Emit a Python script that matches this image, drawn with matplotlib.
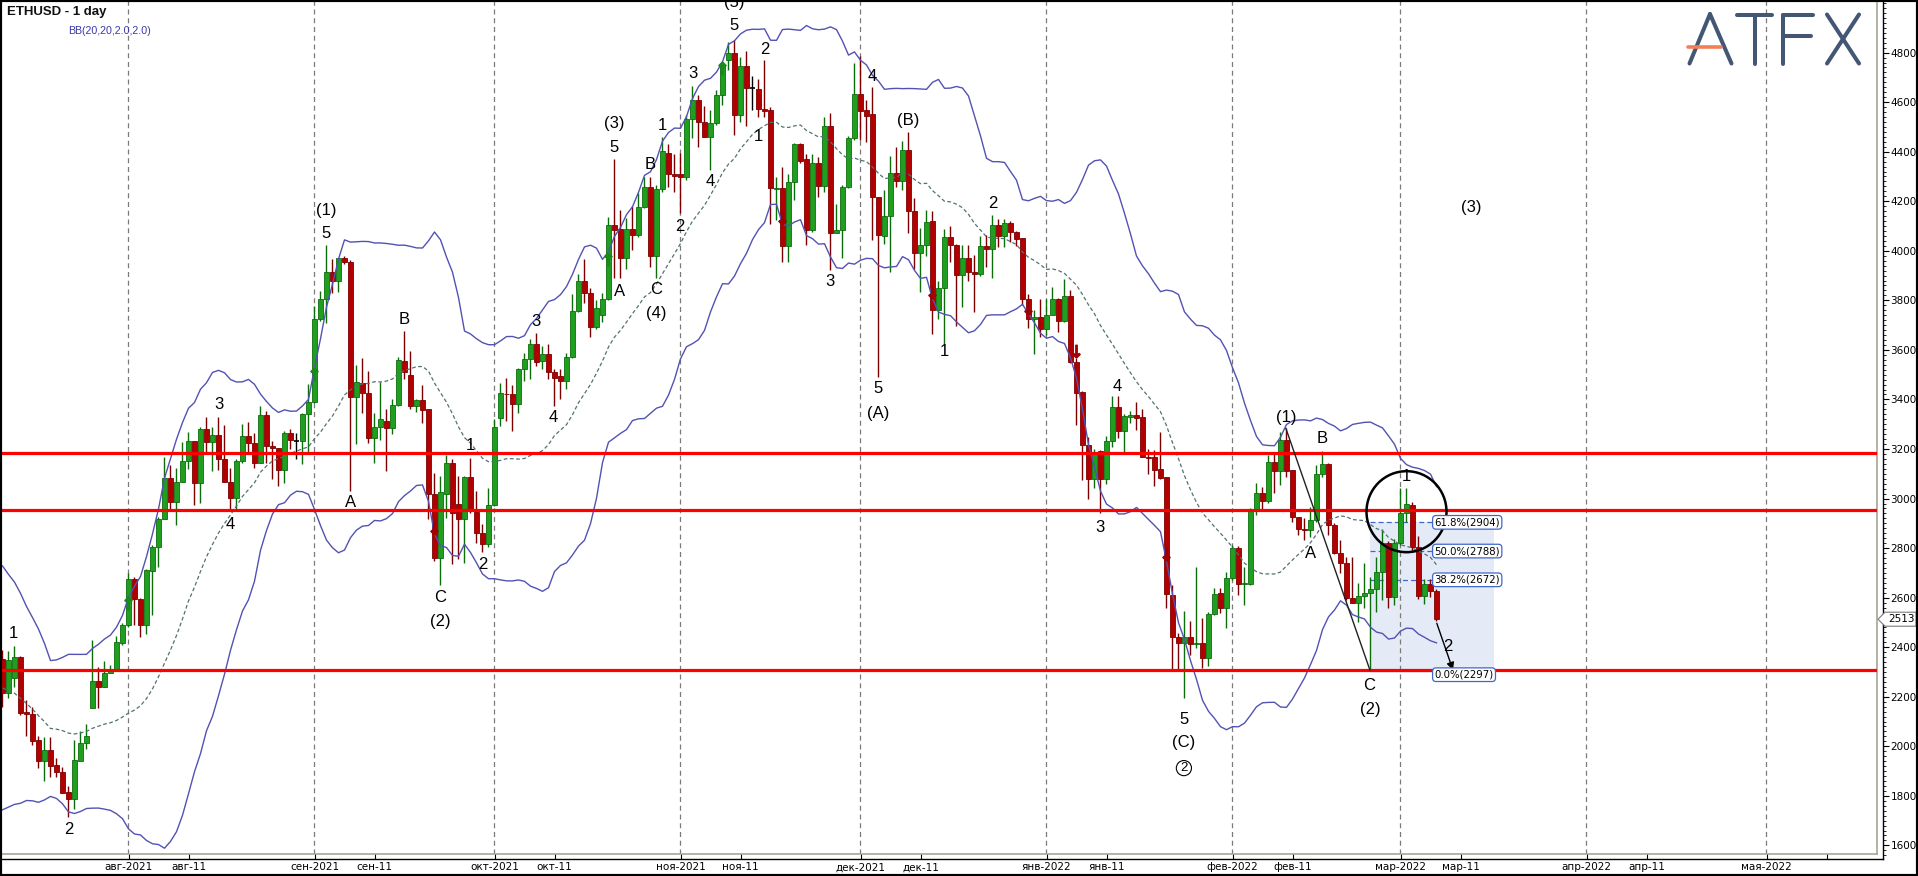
import numpy as np
import pandas as pd
import matplotlib
matplotlib.use("Agg")
import matplotlib.pyplot as plt
import matplotlib.dates as mdates
from matplotlib.patches import Rectangle, Ellipse, Polygon
from matplotlib.lines import Line2D
from matplotlib.ticker import MultipleLocator

# ---------------- data ----------------
start_date = "2021-07-11"

opens = [2351, 2214, 2274, 2359, 2137, 2129, 2025, 1942, 1985, 1924,
         1895, 1815, 1787, 1941, 2012, 2156, 2264, 2241, 2297, 2311,
         2418, 2488, 2674, 2596, 2488, 2707, 2804, 2917, 3083, 2987,
         3067, 3152, 3234, 3063, 3282, 3229, 3258, 3160, 3067, 3003,
         3152, 3253, 3225, 3144, 3339, 3214, 3204, 3117, 3263, 3234,
         3232, 3340, 3391, 3726, 3806, 3915, 3878, 3969, 3956, 3410,
         3468, 3427, 3246, 3290, 3315, 3286, 3376, 3555, 3497, 3373,
         3396, 3360, 3017, 2761, 3017, 3142, 2976, 2919, 3088, 2946,
         2862, 2818, 2972, 3326, 3424, 3424, 3380, 3524, 3562, 3622,
         3555, 3582, 3511, 3494, 3474, 3572, 3757, 3878, 3828, 3694,
         3740, 3805, 4104, 4087, 3972, 4087, 4064, 4175, 4259, 3980,
         4248, 4396, 4310, 4310, 4296, 4531, 4609, 4521, 4461, 4515,
         4629, 4770, 4800, 4548, 4746, 4656, 4652, 4571, 4568, 4248,
         4252, 4021, 4276, 4431, 4369, 4084, 4353, 4262, 4504, 4070,
         4084, 4256, 4454, 4632, 4568, 4552, 4219, 4058, 4142, 4315,
         4283, 4406, 4159, 3993, 4025, 4119, 3763, 3848, 4055, 4025,
         3901, 3971, 3913, 3906, 4019, 4007, 4106, 4061, 4112, 4077,
         4051, 3804, 3724, 3732, 3684, 3742, 3807, 3717, 3819, 3553,
         3430, 3217, 3079, 3191, 3079, 3231, 3369, 3272, 3330, 3336,
         3330, 3169, 3166, 3118, 3086, 2611, 2443, 2418, 2440, 2412,
         2416, 2355, 2534, 2617, 2557, 2678, 2799, 2655, 2655, 2956,
         3021, 2991, 3149, 3112, 3236, 3115, 2924, 2876, 2873, 2913,
         3099, 3138, 2893, 2782, 2738, 2597, 2580, 2607, 2617, 2633,
         2705, 2822, 2601, 2819, 2943, 2974, 2803, 2607, 2655, 2627]

highs = [2389, 2386, 2405, 2365, 2187, 2160, 2041, 2039, 2036, 1951,
         1918, 1840, 2025, 2063, 2090, 2429, 2321, 2344, 2328, 2445,
         2496, 2698, 2682, 2600, 2715, 2812, 2925, 3169, 3136, 3123,
         3230, 3269, 3234, 3290, 3328, 3290, 3331, 3295, 3123, 3161,
         3299, 3307, 3266, 3372, 3355, 3234, 3204, 3274, 3282, 3266,
         3346, 3461, 3777, 3837, 4022, 3968, 3972, 3979, 3963, 3541,
         3566, 3515, 3346, 3470, 3363, 3400, 3572, 3676, 3595, 3400,
         3457, 3360, 3104, 3093, 3174, 3161, 3091, 3093, 3165, 3030,
         2896, 3044, 3320, 3467, 3488, 3457, 3528, 3588, 3642, 3669,
         3615, 3622, 3521, 3521, 3588, 3824, 3905, 3965, 3850, 3800,
         3828, 4138, 4369, 4165, 4131, 4181, 4232, 4299, 4299, 4266,
         4461, 4431, 4391, 4393, 4548, 4665, 4629, 4584, 4568, 4649,
         4757, 4844, 4851, 4784, 4808, 4706, 4692, 4770, 4582, 4299,
         4340, 4312, 4434, 4434, 4391, 4391, 4380, 4541, 4558, 4189,
         4265, 4463, 4760, 4786, 4609, 4660, 4219, 4246, 4384, 4417,
         4442, 4481, 4214, 4094, 4166, 4159, 3877, 4090, 4101, 4029,
         4022, 4022, 3985, 4058, 4065, 4145, 4130, 4130, 4119, 4080,
         4051, 3826, 3761, 3804, 3804, 3852, 3811, 3887, 3843, 3568,
         3434, 3249, 3202, 3195, 3253, 3413, 3413, 3340, 3355, 3391,
         3362, 3202, 3195, 3268, 3086, 2651, 2456, 2547, 2507, 2725,
         2516, 2543, 2638, 2638, 2705, 2812, 2808, 2725, 2960, 3061,
         3048, 3176, 3182, 3270, 3283, 3115, 2927, 2920, 2967, 3135,
         3193, 3142, 2903, 2833, 2765, 2765, 2658, 2738, 2685, 2765,
         2876, 2830, 2835, 3041, 3041, 2987, 2849, 2674, 2674, 2634]

lows = [2157, 2194, 2238, 2126, 2041, 2005, 1914, 1861, 1877, 1877,
        1813, 1713, 1746, 1941, 1988, 2153, 2153, 2238, 2294, 2308,
        2409, 2480, 2488, 2442, 2455, 2528, 2723, 2917, 2958, 2893,
        3067, 3120, 2974, 2982, 3185, 3112, 3117, 3067, 2958, 2958,
        3144, 3185, 3123, 3144, 3144, 3080, 3052, 3063, 3198, 3158,
        3138, 3185, 3387, 3716, 3710, 3831, 3834, 3945, 3030, 3219,
        3346, 3225, 3145, 3236, 3111, 3259, 3373, 3481, 3360, 3349,
        3306, 2916, 2748, 2651, 2923, 2734, 2754, 2741, 2943, 2822,
        2784, 2806, 2970, 3293, 3313, 3272, 3344, 3474, 3481, 3535,
        3521, 3481, 3373, 3403, 3441, 3568, 3753, 3790, 3653, 3684,
        3714, 3801, 3889, 3889, 3925, 4003, 4057, 4171, 3936, 3889,
        4239, 4259, 4239, 4151, 4286, 4454, 4420, 4458, 4326, 4508,
        4588, 4730, 4467, 4521, 4504, 4568, 4541, 4541, 4108, 4124,
        3956, 3956, 4205, 4353, 4023, 4077, 4219, 4239, 3922, 4070,
        3970, 4252, 4447, 4447, 4440, 4044, 3492, 4029, 3915, 4258,
        4246, 4072, 3927, 3835, 3978, 3666, 3724, 3625, 3956, 3695,
        3775, 3879, 3753, 3899, 3935, 3892, 4014, 4014, 4036, 4019,
        3782, 3688, 3582, 3652, 3659, 3739, 3674, 3713, 3547, 3297,
        3075, 2999, 3043, 2941, 3057, 3210, 3246, 3188, 3304, 3275,
        3166, 3101, 3050, 3078, 2557, 2308, 2308, 2194, 2368, 2395,
        2315, 2324, 2530, 2537, 2476, 2671, 2611, 2570, 2651, 2934,
        2951, 2981, 3024, 3055, 3088, 2907, 2853, 2833, 2843, 2907,
        3085, 2853, 2776, 2698, 2590, 2577, 2503, 2557, 2308, 2543,
        2590, 2557, 2570, 2812, 2907, 2786, 2593, 2574, 2604, 2507]

closes = [2214, 2348, 2359, 2133, 2130, 2023, 1942, 1985, 1922, 1898,
          1813, 1787, 1943, 2012, 2042, 2264, 2241, 2297, 2312, 2420,
          2490, 2674, 2593, 2488, 2710, 2804, 2917, 3083, 2987, 3067,
          3152, 3234, 3063, 3279, 3229, 3258, 3160, 3067, 3003, 3152,
          3253, 3225, 3144, 3339, 3214, 3204, 3117, 3263, 3237, 3234,
          3340, 3391, 3726, 3806, 3915, 3878, 3969, 3954, 3410, 3472,
          3427, 3246, 3290, 3320, 3286, 3376, 3559, 3511, 3373, 3396,
          3357, 3017, 2761, 3028, 3142, 2943, 2919, 3088, 2956, 2862,
          2818, 2972, 3290, 3427, 3420, 3380, 3524, 3562, 3622, 3551,
          3582, 3511, 3488, 3474, 3572, 3757, 3878, 3828, 3694, 3768,
          3805, 4104, 4084, 3972, 4087, 4064, 4175, 4259, 3980, 4248,
          4403, 4310, 4302, 4296, 4531, 4609, 4521, 4461, 4515, 4629,
          4750, 4800, 4548, 4746, 4656, 4656, 4571, 4565, 4252, 4252,
          4021, 4276, 4431, 4364, 4084, 4353, 4262, 4504, 4070, 4084,
          4256, 4454, 4632, 4566, 4545, 4219, 4064, 4142, 4315, 4283,
          4406, 4159, 3993, 4025, 4116, 3763, 3848, 4055, 4022, 3901,
          3971, 3913, 3906, 4019, 4007, 4106, 4061, 4112, 4077, 4048,
          3804, 3724, 3732, 3684, 3742, 3807, 3717, 3819, 3550, 3427,
          3217, 3079, 3181, 3079, 3231, 3369, 3272, 3333, 3336, 3326,
          3166, 3162, 3115, 3082, 2615, 2443, 2418, 2440, 2412, 2418,
          2355, 2534, 2615, 2557, 2678, 2799, 2655, 2660, 2956, 3021,
          2991, 3149, 3112, 3236, 3112, 2924, 2876, 2873, 2913, 3099,
          3138, 2893, 2782, 2738, 2597, 2580, 2607, 2617, 2633, 2705,
          2822, 2601, 2819, 2943, 2978, 2803, 2607, 2655, 2628, 2513]

# estimated closes of the 19 days before the first candle (needed for the BB warm-up)
bb_warmup_closes = [2580, 2560, 2540, 2550, 2480, 2470, 2470, 2472, 1950, 1930,
                    1990, 2010, 1930, 1920, 2010, 2070, 2130, 2200, 2240]
bb_period = 20
bb_mult = 2.0

red_levels = [3185, 2953, 2306]

fib_pct = ["61.8%", "50.0%", "38.2%", "0.0%"]
fib_prices = [2904, 2788, 2672, 2297]

tick_dates = ["2021-08-01", "2021-08-11", "2021-09-01", "2021-09-11", "2021-10-01",
              "2021-10-11", "2021-11-01", "2021-11-11", "2021-12-01", "2021-12-11",
              "2022-01-01", "2022-01-11", "2022-02-01", "2022-02-11", "2022-03-01",
              "2022-03-11", "2022-04-01", "2022-04-11", "2022-05-01", "2022-05-11"]
tick_labels = ["авг-2021", "авг-11", "сен-2021", "сен-11", "окт-2021", "окт-11",
               "ноя-2021", "ноя-11", "дек-2021", "дек-11", "янв-2022", "янв-11",
               "фев-2022", "фев-11", "мар-2022", "мар-11", "апр-2022", "апр-11",
               "мая-2022", ""]
grid_dates = ["2021-08-01", "2021-09-01", "2021-10-01", "2021-11-01", "2021-12-01",
              "2022-01-01", "2022-02-01", "2022-03-01", "2022-04-01", "2022-05-01"]
price_ticks = list(range(1600, 4801, 200))

# Elliott-wave annotations: text, day offset from 2021-08-01, price
wave_texts = ["1", "2", "3", "4", "(1)", "5", "A", "B", "C", "(2)", "1", "2", "3", "4",
              "(3)", "5", "A", "B", "C", "(4)", "1", "2", "3", "4", "(5)", "5", "1", "2",
              "3", "4", "5", "(A)", "(B)", "1", "2", "3", "4", "5", "(C)",
              "(1)", "B", "A", "C", "(2)", "1", "2", "(3)"]
wave_days = [-19.2, -10.0, 15.0, 16.9, 32.9, 32.9, 37.0, 46.0, 51.9, 51.9, 56.9, 59.0, 67.9, 70.8,
             81.0, 81.0, 81.9, 86.9, 87.9, 87.9, 88.9, 91.9, 94.0, 96.9, 100.9, 100.9, 105.0, 106.0,
             116.9, 123.9, 124.9, 124.9, 130.0, 135.9, 144.0, 161.9, 164.8, 175.9, 175.9,
             192.9, 199.0, 197.0, 206.8, 207.0, 213.0, 219.9, 223.8]
wave_prices = [2457, 1665, 3380, 2896, 4164, 4069, 2986, 3723, 2600, 2502, 3215, 2734, 3716, 3326,
               4514, 4418, 3835, 4350, 3842, 3745, 4504, 4097, 4714, 4279, 5002, 4911, 4461, 4813,
               3875, 4703, 3443, 3343, 4525, 3594, 4191, 2883, 3452, 2109, 2015,
               3328, 3243, 2779, 2247, 2149, 3088, 2402, 4173]

signal_up_days = [0, 31, 80, 99]
signal_up_prices = [2577, 3501, 3966, 4736]
signal_dn_days = [51, 109, 134, 150, 158, 173]
signal_dn_prices = [2882, 4131, 3833, 3768, 3594, 2775]

# ---------------- geometry of the reference picture ----------------
W, H, DPI = 1918, 876, 100
X_AUG1, PX_PER_DAY = 128.5, 6.0
Y_4800, PX_PER_PRICE = 52.6, 0.24775

plt.rcParams['font.family'] = ['Liberation Sans', 'DejaVu Sans']

anchor = mdates.date2num(pd.Timestamp("2021-08-01"))


def px_to_x(px):
    return anchor + (px - X_AUG1) / PX_PER_DAY


def py_to_price(py):
    return 4800 - (py - Y_4800) / PX_PER_PRICE


def fig_pt(px, py):
    return (px / W, 1 - py / H)


o = np.array(opens, float)
h = np.array(highs, float)
l = np.array(lows, float)
c = np.array(closes, float)
dates = pd.date_range(start_date, periods=len(c), freq="D")
x = mdates.date2num(dates)

allc = pd.Series(list(bb_warmup_closes) + list(closes), dtype=float)
mid = allc.rolling(bb_period).mean().to_numpy()[len(bb_warmup_closes):]
sd = allc.rolling(bb_period).std(ddof=0).to_numpy()[len(bb_warmup_closes):]
upper = mid + bb_mult * sd
lower = mid - bb_mult * sd

fig = plt.figure(figsize=(W / DPI, H / DPI), dpi=DPI)
fig.patch.set_facecolor("white")

# ---- tick/frame axes (black axis lines, ticks and labels) ----
axT = fig.add_axes([2 / W, 1 - 859 / H, (1883 - 2) / W, (859 - 1) / H])
axT.set_xlim(px_to_x(2), px_to_x(1883))
axT.set_ylim(py_to_price(859), py_to_price(1))
axT.patch.set_visible(False)
for s in ["left", "top"]:
    axT.spines[s].set_visible(False)
for s in ["right", "bottom"]:
    axT.spines[s].set_color("black")
    axT.spines[s].set_linewidth(1.0)
axT.yaxis.tick_right()
axT.set_yticks(price_ticks)
axT.set_yticklabels([str(v) for v in price_ticks], family="DejaVu Sans")
axT.yaxis.set_minor_locator(MultipleLocator(20))
axT.tick_params(axis="y", which="major", direction="out", length=4, width=0.8,
                labelsize=7.5, pad=1.5)
axT.tick_params(axis="y", which="minor", direction="out", length=2, width=0.6)
tick_x = mdates.date2num(pd.to_datetime(tick_dates))
axT.set_xticks(tick_x)
axT.set_xticklabels(tick_labels, family="DejaVu Sans")
axT.tick_params(axis="x", which="major", direction="in", length=5, width=0.8,
                labelsize=7.5, pad=2.5)

# ---- main plotting axes ----
ax = fig.add_axes([2 / W, 1 - 854 / H, (1877 - 2) / W, (854 - 1) / H])
ax.set_xlim(px_to_x(2), px_to_x(1877))
ax.set_ylim(py_to_price(854), py_to_price(1))
ax.set_xticks([])
ax.set_yticks([])
ax.set_facecolor("white")
for s in ["left", "top"]:
    ax.spines[s].set_visible(False)
for s in ["right", "bottom"]:
    ax.spines[s].set_color("#a6a696")
    ax.spines[s].set_linewidth(1.2)

# month grid
for gd in pd.to_datetime(grid_dates):
    ax.axvline(mdates.date2num(gd), color="#7a7a7a", lw=0.9, ls=(0, (4, 3)), zorder=1)

# fibonacci box
fx0 = anchor + 206.85
fx1 = anchor + 227.6
fxl = anchor + 217.3
ax.add_patch(Rectangle((fx0, fib_prices[3]), fx1 - fx0, fib_prices[0] - fib_prices[3],
                       facecolor="#e5ebf6", edgecolor="none", zorder=0.5))
for lab, pv in zip(fib_pct, fib_prices):
    if lab != "0.0%":
        ax.plot([fx0, fxl], [pv, pv], color="#3f67cc", lw=0.9, ls=(0, (4, 2.5)), zorder=2)
    ax.text(fxl + 0.35, pv - (8 if lab == "0.0%" else 0), f"{lab}({pv})", fontsize=7.3,
            family="DejaVu Sans", ha="left", va="center", zorder=9,
            bbox=dict(boxstyle="round,pad=0.18,rounding_size=0.35", fc="white",
                      ec="#3f67cc", lw=0.9))

# candles
up = c > o
dn = c < o
fl = c == o
wick_col = np.where(up, "#0b6e0b", np.where(dn, "#7d0000", "#000000"))
ax.vlines(x, l, h, colors=list(wick_col), lw=1.0, zorder=3)
bw = 0.72
ax.bar(x[up], (c - o)[up], bottom=o[up], width=bw, color="#1f9e1f",
       edgecolor="#0b6e0b", linewidth=0.6, zorder=4)
ax.bar(x[dn], (o - c)[dn], bottom=c[dn], width=bw, color="#b20000",
       edgecolor="#7d0000", linewidth=0.6, zorder=4)
ax.hlines(c[fl], x[fl] - bw / 2, x[fl] + bw / 2, color="black", lw=1.2, zorder=4)

# Bollinger bands
ax.plot(x, upper, color="#5252b4", lw=1.0, zorder=5)
ax.plot(x, lower, color="#5252b4", lw=1.0, zorder=5)
ax.plot(x, mid, color="#527272", lw=0.9, ls=(0, (3, 2)), zorder=5)

# red horizontal levels
for lv in red_levels:
    ax.axhline(lv, color="#ff0000", lw=2.3, zorder=6)

# signal arrows
ax.plot(anchor + np.array(signal_up_days), signal_up_prices, ls="none",
        marker=r"$\uparrow$", ms=9, color="#1a8a1a", zorder=6)
ax.plot(anchor + np.array(signal_dn_days), signal_dn_prices, ls="none",
        marker=r"$\downarrow$", ms=9, color="#a00000", zorder=6)

# wave lines
ax.plot([anchor + 192.9, anchor + 206.9], [3283, 2308], color="#222222", lw=1.0, zorder=7)
ax.annotate("", xy=(anchor + 220.9, 2297), xytext=(anchor + 217.9, 2507),
            arrowprops=dict(arrowstyle="-|>", color="black", lw=1.0, mutation_scale=11),
            zorder=8)

# circle
ax.add_patch(Ellipse((anchor + 213.0, 2947), width=80 / PX_PER_DAY, height=81 / PX_PER_PRICE,
                     fill=False, ec="black", lw=1.8, zorder=8))

# wave labels
for t, dd, pv in zip(wave_texts, wave_days, wave_prices):
    ax.text(anchor + dd, pv, t, fontsize=12, ha="center", va="center", color="black",
            zorder=10, clip_on=True)
ax.text(anchor + 175.9, 1912, "2", fontsize=9.5, ha="center", va="center", zorder=10,
        bbox=dict(boxstyle="circle,pad=0.12", fc="none", ec="black", lw=0.8))

# titles
fig.text(7 / W, 1 - 12.5 / H, "ETHUSD - 1 day", fontsize=9.5, fontweight="bold",
         ha="left", va="center", color="#111111")
fig.text(68.3 / W, 1 - 30.7 / H, "BB(20,20,2.0,2.0)", fontsize=7.7, ha="left",
         va="center", color="#3a3aa6")

# last price tag
yp = Y_4800 + (4800 - closes[-1]) * PX_PER_PRICE
tag = [fig_pt(1878, yp), fig_pt(1885, yp - 7), fig_pt(1916, yp - 7),
       fig_pt(1916, yp + 7), fig_pt(1885, yp + 7)]
fig.add_artist(Polygon(tag, closed=True, transform=fig.transFigure, fc="white",
                       ec="#7a7a7a", lw=0.8, zorder=20))
fig.text(1888 / W, 1 - yp / H, str(closes[-1]), fontsize=7.5, family="DejaVu Sans",
         ha="left", va="center", zorder=21)

# ATFX logo
logo_col = "#435673"
segs = [((1689.5, 63.5), (1710, 14)), ((1710, 14), (1731.5, 63.5)),
        ((1737, 14.5), (1772, 14.5)), ((1754.5, 14.5), (1754.5, 63.5)),
        ((1783, 14.5), (1783, 63.5)), ((1783, 14.5), (1812.5, 14.5)),
        ((1783, 35.5), (1810.5, 35.5)),
        ((1827, 14.5), (1859, 63.5)), ((1859, 14.5), (1827, 63.5))]
for (a, b) in segs:
    p1, p2 = fig_pt(*a), fig_pt(*b)
    fig.add_artist(Line2D([p1[0], p2[0]], [p1[1], p2[1]], transform=fig.transFigure,
                          color=logo_col, lw=2.9, solid_capstyle="round", zorder=15))
p1, p2 = fig_pt(1688, 46.5), fig_pt(1721, 46.5)
fig.add_artist(Line2D([p1[0], p2[0]], [p1[1], p2[1]], transform=fig.transFigure,
                      color="#f07f5a", lw=2.6, solid_capstyle="round", zorder=16))

# outer frame
fig.add_artist(Rectangle((0, 0), 1, 1, transform=fig.transFigure, fill=False,
                         ec="black", lw=3.0, zorder=30))

fig.savefig("out.png", dpi=DPI, facecolor="white")
